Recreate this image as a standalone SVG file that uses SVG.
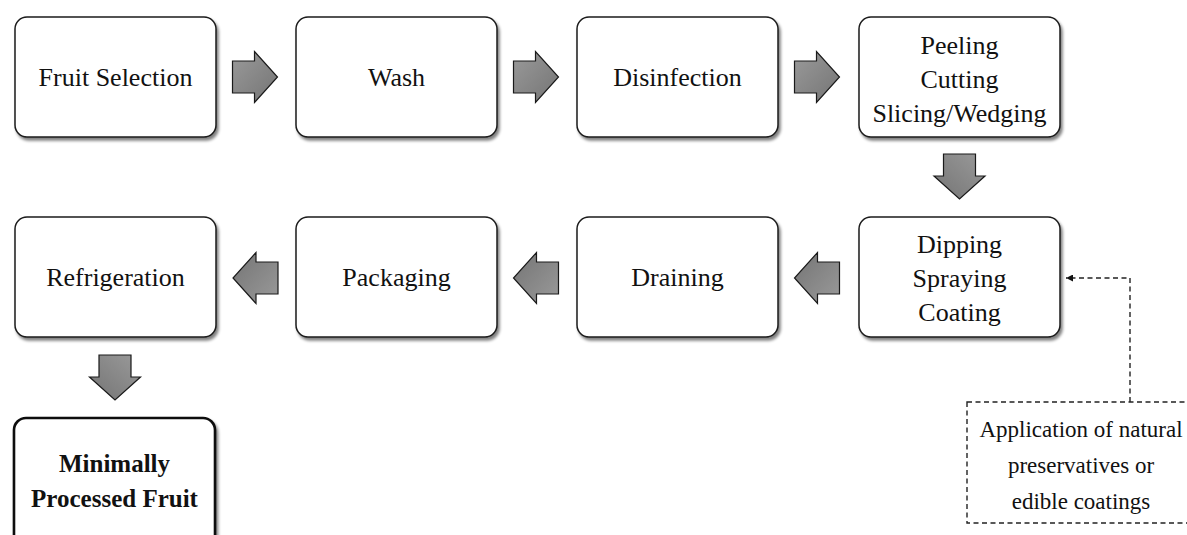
<svg xmlns="http://www.w3.org/2000/svg" width="1187" height="535" viewBox="0 0 1187 535">
  <defs>
    <filter id="shadow" x="-10%" y="-10%" width="125%" height="130%">
      <feGaussianBlur in="SourceAlpha" stdDeviation="1.6"/>
      <feOffset dx="2" dy="3" result="off"/>
      <feComponentTransfer><feFuncA type="linear" slope="0.5"/></feComponentTransfer>
      <feMerge><feMergeNode/><feMergeNode in="SourceGraphic"/></feMerge>
    </filter>
    <linearGradient id="arrowFill" x1="0" y1="0" x2="1" y2="1">
      <stop offset="0" stop-color="#9a9a9a"/>
      <stop offset="1" stop-color="#747474"/>
    </linearGradient>
    <!-- block arrow pointing right, centred on the origin -->
    <path id="blockArrow" d="M-22,-16 H0 V-25.5 L23,0 L0,25.5 V16 H-22 Z"/>
    <marker id="tri" viewBox="0 0 10 10" refX="10" refY="5" markerWidth="9" markerHeight="7" markerUnits="userSpaceOnUse" orient="auto">
      <path d="M0,0 L10,5 L0,10 Z" fill="#111"/>
    </marker>
  </defs>
  <style>
    .box { fill: #fff; stroke: #1a1a1a; stroke-width: 1.5; filter: url(#shadow); }
    .final { fill: #fff; stroke: #111; stroke-width: 2.6; filter: url(#shadow); }
    .lbl { font-family: "Liberation Serif", "Times New Roman", serif; font-size: 26px; fill: #111; text-anchor: middle; }
    .bold { font-family: "Liberation Serif", "Times New Roman", serif; font-size: 25px; font-weight: bold; fill: #111; text-anchor: middle; }
    .note { font-family: "Liberation Serif", "Times New Roman", serif; font-size: 23px; fill: #111; text-anchor: middle; }
    .arrow { fill: url(#arrowFill); stroke: #1a1a1a; stroke-width: 1.2; stroke-linejoin: miter; }
    .dash { fill: none; stroke: #222; stroke-width: 1.4; stroke-dasharray: 5 3.5; }
  </style>

  <rect width="1187" height="535" fill="#fff"/>

  <!-- process steps -->
  <g id="fruit-selection">
    <rect class="box" x="15" y="17" width="201" height="120" rx="12"/>
    <text class="lbl" x="115.5" y="86">Fruit Selection</text>
  </g>
  <g id="wash">
    <rect class="box" x="296" y="17" width="201" height="120" rx="12"/>
    <text class="lbl" x="396.5" y="86">Wash</text>
  </g>
  <g id="disinfection">
    <rect class="box" x="577" y="17" width="201" height="120" rx="12"/>
    <text class="lbl" x="677.5" y="86">Disinfection</text>
  </g>
  <g id="peeling">
    <rect class="box" x="859" y="17" width="201" height="120" rx="12"/>
    <text class="lbl" x="959.5" y="54">Peeling</text>
    <text class="lbl" x="959.5" y="88">Cutting</text>
    <text class="lbl" x="959.5" y="122">Slicing/Wedging</text>
  </g>
  <g id="dipping">
    <rect class="box" x="859" y="217" width="201" height="120" rx="12"/>
    <text class="lbl" x="959.5" y="253">Dipping</text>
    <text class="lbl" x="959.5" y="287">Spraying</text>
    <text class="lbl" x="959.5" y="321">Coating</text>
  </g>
  <g id="draining">
    <rect class="box" x="577" y="217" width="201" height="120" rx="12"/>
    <text class="lbl" x="677.5" y="286">Draining</text>
  </g>
  <g id="packaging">
    <rect class="box" x="296" y="217" width="201" height="120" rx="12"/>
    <text class="lbl" x="396.5" y="286">Packaging</text>
  </g>
  <g id="refrigeration">
    <rect class="box" x="15" y="217" width="201" height="120" rx="12"/>
    <text class="lbl" x="115.5" y="286">Refrigeration</text>
  </g>
  <g id="minimally-processed-fruit">
    <rect class="final" x="14" y="418" width="201" height="135" rx="12"/>
    <text class="bold" x="114.5" y="472">Minimally</text>
    <text class="bold" x="114.5" y="507">Processed Fruit</text>
  </g>
  <g id="natural-preservatives">
    <rect class="dash" x="967" y="402" width="230" height="121"/>
    <text class="note" x="1081" y="437">Application of natural</text>
    <text class="note" x="1081" y="473">preservatives or</text>
    <text class="note" x="1081" y="509">edible coatings</text>
  </g>

  <!-- connectors -->
  <g id="connectors">
    <use href="#blockArrow" class="arrow" transform="translate(254.5,77)"/>
    <use href="#blockArrow" class="arrow" transform="translate(535.5,77)"/>
    <use href="#blockArrow" class="arrow" transform="translate(816.5,77)"/>
    <use href="#blockArrow" class="arrow" transform="translate(959.5,176) rotate(90)"/>
    <use href="#blockArrow" class="arrow" transform="translate(817.5,278) rotate(180)"/>
    <use href="#blockArrow" class="arrow" transform="translate(536.5,278) rotate(180)"/>
    <use href="#blockArrow" class="arrow" transform="translate(256,278) rotate(180)"/>
    <use href="#blockArrow" class="arrow" transform="translate(115,377) rotate(90)"/>
    <path class="dash" d="M1130,402 V278 H1066" marker-end="url(#tri)"/>
  </g>
</svg>
